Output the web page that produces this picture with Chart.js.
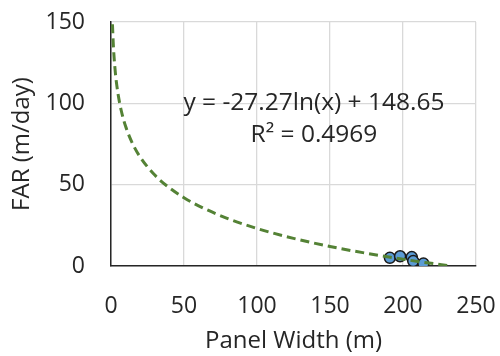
<!DOCTYPE html>
<html>
<head>
<meta charset="utf-8">
<script src="https://cdn.jsdelivr.net/npm/chart.js@4.4.1/dist/chart.umd.min.js"></script>
<style>
  html, body { margin: 0; padding: 0; background: #fff; }
  #wrap { width: 500px; height: 356px; }
</style>
</head>
<body>
<div id="wrap"><canvas id="c"></canvas></div>
<script>
const panelWidth = [191, 198, 206, 207, 214];
const farValues = [5.0, 6.0, 5.5, 3.0, 1.5];

// Log trendline y = -27.27ln(x) + 148.65, values listed at a few widths
const trendX = [1, 1.5, 2, 3, 4, 5, 7, 10, 15, 20, 30, 40, 50, 60, 80, 100, 125, 150, 175, 200, 215, 232];
const trendY = [148.65, 137.59, 129.75, 118.69, 110.85, 104.76, 95.59, 85.86, 74.80, 66.96, 55.90, 48.05,
                41.97, 37.00, 29.15, 23.07, 16.98, 12.01, 7.81, 4.16, 2.19, 0.12];

const xTicks = [0, 50, 100, 150, 200, 250];
const yTicks = [0, 50, 100, 150];
const eqText = 'y = -27.27ln(x) + 148.65';
const r2Text = 'R\u00B2 = 0.4969';

const font = "'Open Sans', sans-serif";
const textColor = '#262626';

// Excel-style trendline label
const trendLabel = {
    id: 'trendLabel',
    afterDatasetsDraw(chart) {
        const { ctx, scales } = chart;
        const cx = scales.x.getPixelForValue(139);
        ctx.save();
        ctx.font = `24.5px ${font}`;
        ctx.fillStyle = textColor;
        ctx.textAlign = 'center';
        ctx.textBaseline = 'middle';
        ctx.fillText(eqText, cx, scales.y.getPixelForValue(100));
        ctx.fillText(r2Text, cx, scales.y.getPixelForValue(80.5));
        ctx.restore();
    }
};

new Chart(document.getElementById('c'), {
    type: 'scatter',
    data: {
        datasets: [
            {
                label: 'trend',
                data: trendX.map((x, i) => ({ x, y: trendY[i] })),
                showLine: true,
                borderColor: '#548235',
                borderWidth: 3,
                borderDash: [9, 5],
                pointRadius: 0,
                cubicInterpolationMode: 'monotone',
                order: 0
            },
            {
                label: 'FAR',
                data: panelWidth.map((x, i) => ({ x, y: farValues[i] })),
                backgroundColor: '#5b9bd5',
                borderColor: '#1a1a1a',
                borderWidth: 1.5,
                pointRadius: 5.5,
                order: 1
            }
        ]
    },
    options: {
        responsive: true,
        maintainAspectRatio: false,
        animation: false,
        layout: { padding: { top: 22, right: 24, left: 0, bottom: 0 } },
        plugins: { legend: { display: false }, tooltip: { enabled: false } },
        scales: {
            x: {
                type: 'linear',
                min: 0, max: 250,
                afterBuildTicks: (s) => { s.ticks = xTicks.map(v => ({ value: v })); },
                afterFit: (s) => { s.height = 90; s.paddingLeft = 0; s.paddingRight = 0; },
                grid: { color: '#d9d9d9', lineWidth: 1.3, drawTicks: false },
                border: { color: '#262626', width: 1.5 },
                ticks: { color: textColor, font: { family: font, size: 23 }, padding: 27, maxRotation: 0 },
                title: { display: true, text: 'Panel Width (m)', color: textColor, font: { family: font, size: 24 }, padding: { top: 0, bottom: 0 } }
            },
            y: {
                min: 0, max: 150,
                afterBuildTicks: (s) => { s.ticks = yTicks.map(v => ({ value: v })); },
                afterFit: (s) => { s.width = 111; s.paddingTop = 0; s.paddingBottom = 0; },
                grid: { color: '#d9d9d9', lineWidth: 1.3, drawTicks: false },
                border: { color: '#262626', width: 1.5 },
                ticks: { color: textColor, font: { family: font, size: 23 }, padding: 26 },
                title: { display: true, text: 'FAR (m/day)', color: textColor, font: { family: font, size: 24 }, padding: { top: 8, bottom: 0 } }
            }
        }
    },
    plugins: [trendLabel]
});
</script>
</body>
</html>
